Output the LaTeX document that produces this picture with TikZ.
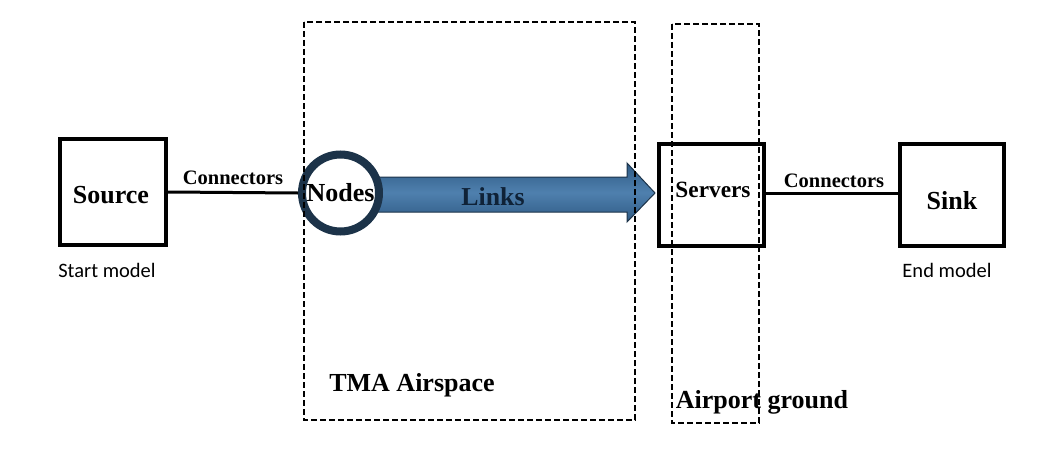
\documentclass[tikz,border=0pt]{standalone}
\usepackage{fontspec}
\setmainfont{Liberation Serif}
\newfontfamily\calib{Carlito}
\begin{document}
\begin{tikzpicture}[x=1pt,y=-1pt,
  blockbox/.style={draw=black,line width=4pt,inner sep=0pt},
  boxtext/.style={font=\bfseries\fontsize{26}{30}\selectfont,inner sep=0pt},
  conn/.style={draw=black,line width=3pt},
  connlabel/.style={font=\bfseries\fontsize{20.5}{24}\selectfont,inner sep=0pt},
  modellabel/.style={font=\calib\fontsize{20.5}{24}\selectfont,inner sep=0pt},
  regionlabel/.style={font=\bfseries\fontsize{26}{30}\selectfont,inner sep=0pt},
  region/.style={draw=black,line width=2.7pt,dash pattern=on 6pt off 3pt},
  nodecircle/.style={circle,draw=navy,line width=8pt,fill=white,minimum size=77pt,inner sep=0pt,font=\bfseries\fontsize{26}{30}\selectfont},
]
\definecolor{navy}{HTML}{1C3349}
\definecolor{linkdark}{HTML}{2E5A84}
\definecolor{linklight}{HTML}{4F80AE}
\definecolor{linktext}{HTML}{0F2237}
\useasboundingbox (0,0) rectangle (1059,452);

% blocks
\node[blockbox,minimum width=106pt,minimum height=106pt] (source) at (113,192) {};
\node[boxtext] (sourcetext) at (111,195) {Source};
\node[blockbox,minimum width=105pt,minimum height=102pt] (servers) at (711.5,195) {};
\node[boxtext,font=\bfseries\fontsize{23.3}{27}\selectfont] (serverstext) at (713,190) {Servers};
\node[blockbox,minimum width=104pt,minimum height=102pt] (sink) at (952,195) {};
\node[boxtext] (sinktext) at (952,201) {Sink};

% link arrow
\coordinate (ls) at (340,177);
\shade[top color=linkdark,bottom color=linkdark,middle color=linklight,draw=navy,line width=1pt]
  (ls) -- (627,177) -- (627,163) -- (655,193) -- (627,222) -- (627,212) -- (340,212) -- cycle;
\node[font=\bfseries\fontsize{25.8}{30}\selectfont,text=linktext,inner sep=0pt] (links) at (493,197) {Links};

% nodes circle
\node[nodecircle] (nodes) at (340.5,193) {Nodes};

% connectors
\draw[conn] (source.east |- 0,192) -- (nodes.west);
\draw[conn] (servers.east |- 0,193) -- (sink.west |- 0,193);
\node[connlabel] (c1) at (233,178) {Connectors};
\node[connlabel] (c2) at (834,181) {Connectors};

% model labels
\node[modellabel] (start) at (107,270) {Start model};
\node[modellabel] (end) at (947,270) {End model};

% regions
\draw[region] (304,22) rectangle (635,420);
\draw[region] (672,24) rectangle (759,423);
\node[regionlabel] (tma) at (412,385) {TMA Airspace};
\node[regionlabel] (apg) at (762,402) {Airport ground};
\end{tikzpicture}
\end{document}
